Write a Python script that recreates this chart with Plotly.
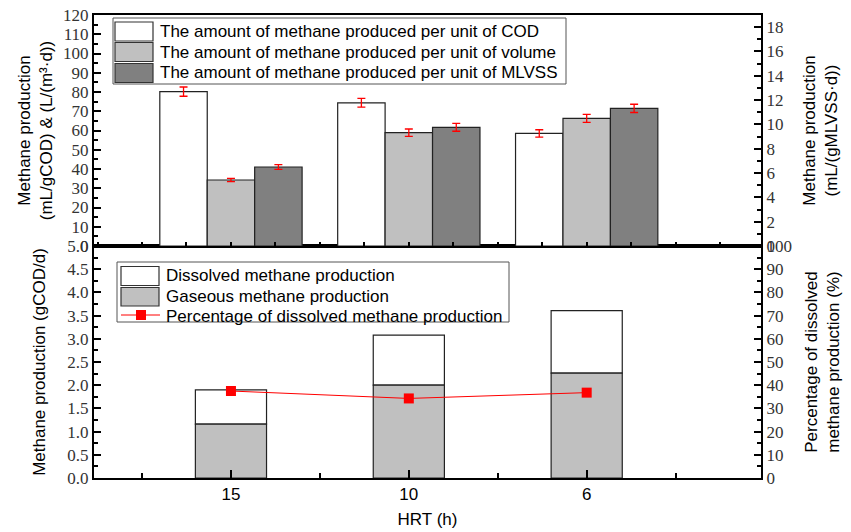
import plotly.graph_objects as go

# ---------------- data ----------------
hrt_labels = ["15", "10", "6"]
hrt_pos = [1, 2, 3]

# top panel
cod_yield = [80.2, 74.4, 58.5]          # mL/gCOD
cod_err = [2.4, 2.3, 1.9]
vol_yield = [34.3, 58.9, 66.3]          # L/(m3·d)
vol_err = [0.8, 1.9, 2.1]
mlvss_yield = [6.5, 9.76, 11.32]        # mL/(gMLVSS·d)
mlvss_err = [0.19, 0.32, 0.34]

# bottom panel
gaseous = [1.16, 2.00, 2.26]            # gCOD/d
dissolved = [0.74, 1.08, 1.35]          # gCOD/d
dissolved_pct = [37.5, 34.3, 36.8]      # %

top_names = ["The amount of methane produced per unit of COD",
             "The amount of methane produced per unit of volume",
             "The amount of methane produced per unit of MLVSS"]
top_colors = ["white", "#c0c0c0", "#808080"]
bot_names = ["Dissolved methane production",
             "Gaseous methane production",
             "Percentage of dissolved methane production"]
bot_colors = ["white", "#c0c0c0"]

SANS = "Liberation Sans"
SERIF = "Liberation Serif, Times New Roman, DejaVu Serif, serif"
EDGE = "#222222"

# plot-area geometry in pixels (for legend placement)
W, H = 851, 532
ML, MR, MT, MB = 94, 90, 15, 54
PW, PH = W - ML - MR, H - MT - MB


def px(xp):
    return (xp - ML) / PW


def py(yp):
    return (H - MB - yp) / PH


fig = go.Figure()

bw = 0.8 / 3
fig.add_trace(go.Bar(
    x=hrt_pos, y=cod_yield, xaxis="x2", yaxis="y3", name=top_names[0],
    marker=dict(color=top_colors[0], line=dict(color=EDGE, width=1.2)),
    width=bw, offset=-0.4,
    error_y=dict(type="data", array=cod_err, color="red", thickness=1.3, width=4)))
fig.add_trace(go.Bar(
    x=hrt_pos, y=vol_yield, xaxis="x2", yaxis="y3", name=top_names[1],
    marker=dict(color=top_colors[1], line=dict(color=EDGE, width=1.2)),
    width=bw, offset=-0.4 + bw,
    error_y=dict(type="data", array=vol_err, color="red", thickness=1.3, width=4)))
fig.add_trace(go.Bar(
    x=hrt_pos, y=mlvss_yield, xaxis="x2", yaxis="y4", name=top_names[2],
    marker=dict(color=top_colors[2], line=dict(color=EDGE, width=1.2)),
    width=bw, offset=-0.4 + 2 * bw,
    error_y=dict(type="data", array=mlvss_err, color="red", thickness=1.3, width=4)))

# bottom panel
fig.add_trace(go.Bar(
    x=hrt_pos, y=dissolved, base=gaseous, xaxis="x", yaxis="y", name=bot_names[0],
    marker=dict(color=bot_colors[0], line=dict(color=EDGE, width=1.2)), width=0.4))
fig.add_trace(go.Bar(
    x=hrt_pos, y=gaseous, xaxis="x", yaxis="y", name=bot_names[1],
    marker=dict(color=bot_colors[1], line=dict(color=EDGE, width=1.2)), width=0.4))
fig.add_trace(go.Scatter(
    x=hrt_pos, y=dissolved_pct, xaxis="x", yaxis="y2", name=bot_names[2],
    mode="lines+markers", line=dict(color="red", width=1),
    marker=dict(symbol="square", size=10, color="red")))

# ---------------- manual legends (paper coords) ----------------
shapes = []
annotations = []
# top legend
shapes.append(dict(type="rect", xref="paper", yref="paper",
                   x0=px(113), x1=px(566), y0=py(84), y1=py(18),
                   line=dict(color="#555555", width=1), fillcolor="white", layer="above"))
rows_top = [(22, 41), (42.5, 61.5), (63.5, 82.5)]
for (y0, y1), name, col in zip(rows_top, top_names, top_colors):
    shapes.append(dict(type="rect", xref="paper", yref="paper",
                       x0=px(115), x1=px(153), y0=py(y1), y1=py(y0),
                       line=dict(color="#333333", width=1.2), fillcolor=col, layer="above"))
    annotations.append(dict(xref="paper", yref="paper", x=px(158), y=py((y0 + y1) / 2),
                            text=name, showarrow=False, xanchor="left", yanchor="middle",
                            font=dict(family=SANS, size=17, color="black")))
# bottom legend
shapes.append(dict(type="rect", xref="paper", yref="paper",
                   x0=px(117), x1=px(509), y0=py(322), y1=py(262),
                   line=dict(color="#555555", width=1), fillcolor="white", layer="above"))
rows_bot = [(266.5, 285.5), (287.5, 306)]
text_y_bot = [275.5, 296, 316.5]
for (y0, y1), ty, name, col in zip(rows_bot, text_y_bot, bot_names[:2], bot_colors):
    shapes.append(dict(type="rect", xref="paper", yref="paper",
                       x0=px(121), x1=px(159), y0=py(y1), y1=py(y0),
                       line=dict(color="#333333", width=1.2), fillcolor=col, layer="above"))
    annotations.append(dict(xref="paper", yref="paper", x=px(164), y=py(ty),
                            text=name, showarrow=False, xanchor="left", yanchor="middle",
                            font=dict(family=SANS, size=17, color="black")))
shapes.append(dict(type="line", xref="paper", yref="paper",
                   x0=px(121), x1=px(160), y0=py(315), y1=py(315),
                   line=dict(color="red", width=1), layer="above"))
shapes.append(dict(type="rect", xref="paper", yref="paper",
                   x0=px(136), x1=px(146), y0=py(320), y1=py(310),
                   line=dict(color="red", width=0), fillcolor="red", layer="above"))
annotations.append(dict(xref="paper", yref="paper", x=px(164), y=py(text_y_bot[2]),
                        text=bot_names[2], showarrow=False, xanchor="left", yanchor="middle",
                        font=dict(family=SANS, size=17, color="black")))

split = 0.501
tickfont = dict(family=SERIF, size=17, color="#333333")
axis_common = dict(showline=True, linecolor="black", linewidth=2,
                   ticks="inside", tickcolor="black", tickwidth=1.5,
                   showgrid=False, zeroline=False, automargin=False)
title_font = dict(family=SANS, size=17, color="black")

fig.update_layout(
    width=W, height=H,
    margin=dict(l=ML, r=MR, t=MT, b=MB),
    paper_bgcolor="white", plot_bgcolor="white",
    barmode="overlay", showlegend=False,
    font=dict(family=SANS, size=15, color="black"),
    shapes=shapes, annotations=annotations,
    xaxis=dict(domain=[0, 1], anchor="y", range=[0.23, 3.98],
               tickvals=hrt_pos, ticktext=hrt_labels, ticklen=8,
               tickfont=dict(family=SANS, size=17, color="black"),
               minor=dict(dtick=0.5, tick0=0.5, ticklen=5, tickcolor="black", ticks="inside"),
               mirror=True,
               title=dict(text="HRT (h)", font=title_font, standoff=10),
               **axis_common),
    yaxis=dict(domain=[0, split], anchor="x", range=[0, 5], dtick=0.5, tickformat=".1f",
               ticklen=7, tickfont=tickfont,
               minor=dict(dtick=0.25, ticklen=4, tickcolor="black", ticks="inside"),
               title=dict(text="Methane production (gCOD/d)", font=title_font, standoff=17),
               **axis_common),
    yaxis2=dict(overlaying="y", side="right", anchor="x", range=[0, 100], dtick=10,
                ticklen=7, tickfont=tickfont,
                minor=dict(dtick=5, ticklen=4, tickcolor="black", ticks="inside"),
                title=dict(text="Percentage of dissolved<br>methane production (%)",
                           font=title_font, standoff=14),
                **axis_common),
    xaxis2=dict(domain=[0, 1], anchor="y3", matches="x", range=[0.23, 3.98],
                showticklabels=False, dtick=0.25, tick0=0, ticklen=4, mirror=True,
                **axis_common),
    yaxis3=dict(domain=[split, 1], anchor="x2", range=[0, 120], dtick=10,
                ticklen=7, tickfont=tickfont,
                minor=dict(dtick=5, ticklen=4, tickcolor="black", ticks="inside"),
                title=dict(text="Methane production<br>(mL/gCOD) & (L/(m³·d))",
                           font=title_font, standoff=6),
                **axis_common),
    yaxis4=dict(overlaying="y3", side="right", anchor="x2", range=[0, 19], dtick=2,
                ticklen=7, tickfont=tickfont,
                minor=dict(dtick=1, ticklen=4, tickcolor="black", ticks="inside"),
                title=dict(text="Methane production<br>(mL/(gMLVSS·d))",
                           font=title_font, standoff=20),
                **axis_common),
)

fig.write_html("out.html")
